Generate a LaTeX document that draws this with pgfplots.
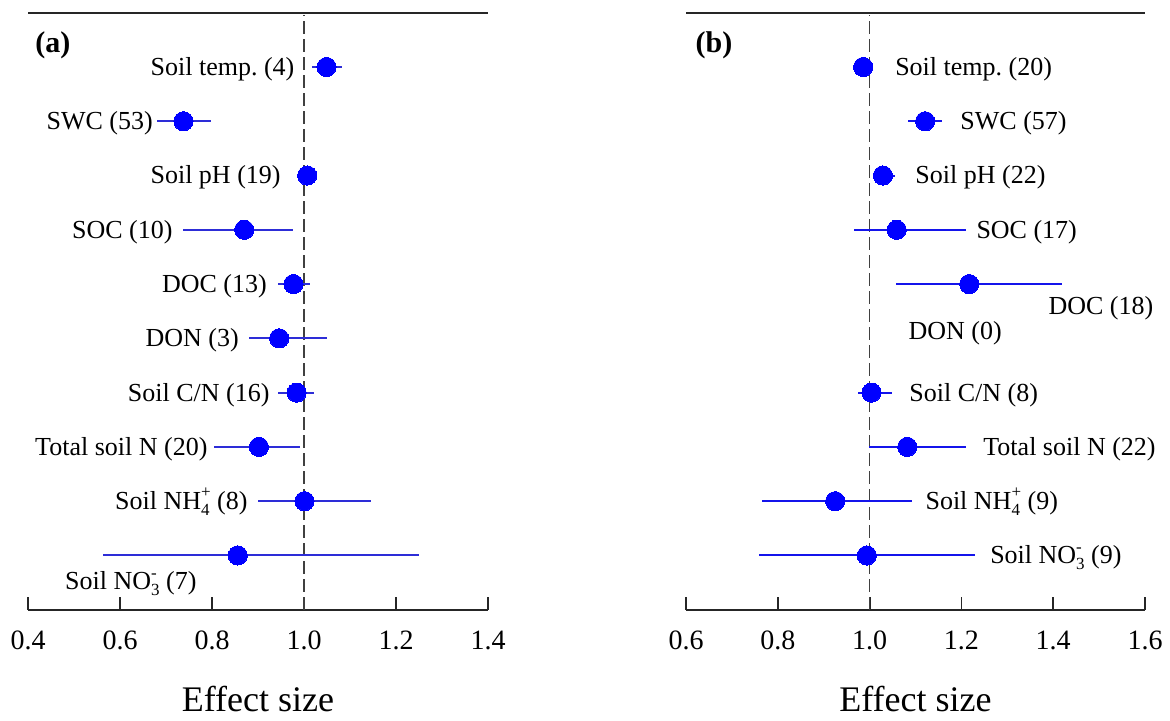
\documentclass[border=0pt]{standalone}
\usepackage{pgfplots}
\pgfplotsset{compat=1.18}
\usepackage{pgfplotstable}
\usepackage{fontspec}
\setmainfont{Liberation Serif}
\frenchspacing
\definecolor{dotblue}{RGB}{0,0,255}
\definecolor{barblueA}{RGB}{45,45,215}
\definecolor{barblueB}{RGB}{20,20,235}

\newcommand{\ion}[2]{\rlap{\raisebox{-2.8pt}{\fontsize{8.5}{9}\selectfont #1}}\raisebox{5.8pt}{\fontsize{8.5}{9}\selectfont #2}}
\newcommand{\ionm}[2]{\rlap{\raisebox{5.6pt}{\fontsize{8.5}{9}\selectfont #2}}\raisebox{-3pt}{\fontsize{8.5}{9}\selectfont #1}}

\pgfplotstableread{
r m lo hi
10 1.049 1.017 1.082
9 0.738 0.680 0.797
8 1.007 0.998 1.016
7 0.870 0.738 0.977
6 0.977 0.943 1.013
5 0.946 0.881 1.049
4 0.984 0.943 1.022
3 0.902 0.805 0.991
2 1.001 0.901 1.146
1 0.856 0.562 1.250
}\dataA

\pgfplotstableread{
r m lo hi
10 0.986 0.980 0.992
9 1.121 1.084 1.157
8 1.029 1.010 1.055
7 1.059 0.966 1.211
6 1.217 1.058 1.419
4 1.004 0.975 1.048
3 1.082 0.999 1.209
2 0.925 0.765 1.093
1 0.994 0.760 1.230
}\dataB

\tikzset{lab/.style={font=\fontsize{13}{15}\selectfont, inner sep=0pt}}

\pgfplotsset{forest/.style={
  scale only axis, height=298.5pt,
  ymin=0, ymax=11, ytick=\empty,
  separate axis lines,
  y axis line style={draw=none},
  x axis line style={line width=0.9pt, black!85},
  xtick pos=left, xtick align=inside, major tick length=6.5pt,
  tick style={line width=0.9pt, black!85},
  xticklabel style={font=\fontsize{14}{16}\selectfont, anchor=base,
    /pgf/number format/.cd, fixed, fixed zerofill, precision=1, assume math mode=true},
  xticklabel shift=20pt,
  xlabel={Effect size},
  xlabel style={font=\fontsize{18}{20}\selectfont, at={(axis description cs:0.5,-0.1704)}, anchor=base},
  clip=false,
  },
  errbars/.style={only marks, mark=none, draw=#1, line width=1pt,
    error bars/.cd, x dir=both, x explicit, error mark=none,
    error bar style={line width=1pt, draw=#1, solid}},
  dots/.style={only marks, mark=*, mark size=4.8pt, mark options={fill=dotblue, draw=dotblue, line width=0pt}},
  refline/.style={black!75, line width=0.8pt, dash pattern=on 6.5pt off 2.5pt},
}

\begin{document}
\begin{tikzpicture}
\useasboundingbox (0,0) rectangle (585pt,360pt);

% ---------------- panel (a)
\begin{axis}[forest, width=230pt, at={(14pt,55.15pt)}, anchor=south west,
  xmin=0.4, xmax=1.4, xtick={0.4,0.6,0.8,1.0,1.2,1.4}]
\addplot[refline] coordinates {(1,0) (1,10.95)};
\addplot[errbars=barblueA] table[x=m, y=r, x error plus expr=\thisrow{hi}-\thisrow{m}, x error minus expr=\thisrow{m}-\thisrow{lo}] {\dataA};
\addplot[dots] table[x=m, y=r] {\dataA};
\node[lab, anchor=base east, yshift=-4.2pt] at (axis cs:0.980,10) {Soil temp. (4)};
\node[lab, anchor=base east, yshift=-4.2pt] at (axis cs:0.672,9) {SWC (53)};
\node[lab, anchor=base east, yshift=-4.2pt] at (axis cs:0.950,8) {Soil pH (19)};
\node[lab, anchor=base east, yshift=-4.2pt] at (axis cs:0.715,7) {SOC (10)};
\node[lab, anchor=base east, yshift=-4.2pt] at (axis cs:0.920,6) {DOC (13)};
\node[lab, anchor=base east, yshift=-4.2pt] at (axis cs:0.859,5) {DON (3)};
\node[lab, anchor=base east, yshift=-4.2pt] at (axis cs:0.926,4) {Soil C/N (16)};
\node[lab, anchor=base east, yshift=-4.2pt] at (axis cs:0.791,3) {Total soil N (20)};
\node[lab, anchor=base east, yshift=-4.2pt] at (axis cs:0.878,2) {Soil NH\ion{4}{+} (8)};
\node[lab, anchor=base west, yshift=-17pt] at (axis cs:0.480,1) {Soil NO\ionm{3}{-} (7)};
\node[anchor=west, inner sep=0pt, font=\bfseries\fontsize{15}{17}\selectfont] at (axis description cs:0.015,0.946) {(a)};
\end{axis}

% ---------------- panel (b)
\begin{axis}[forest, width=229.5pt, at={(343pt,55.15pt)}, anchor=south west,
  xmin=0.6, xmax=1.6, xtick={0.6,0.8,1.0,1.2,1.4,1.6}]
\addplot[refline] coordinates {(1,0) (1,10.95)};
\addplot[errbars=barblueB] table[x=m, y=r, x error plus expr=\thisrow{hi}-\thisrow{m}, x error minus expr=\thisrow{m}-\thisrow{lo}] {\dataB};
\addplot[dots] table[x=m, y=r] {\dataB};
\node[lab, anchor=base west, yshift=-4.2pt] at (axis cs:1.055,10) {Soil temp. (20)};
\node[lab, anchor=base west, yshift=-4.2pt] at (axis cs:1.197,9) {SWC (57)};
\node[lab, anchor=base west, yshift=-4.2pt] at (axis cs:1.099,8) {Soil pH (22)};
\node[lab, anchor=base west, yshift=-4.2pt] at (axis cs:1.232,7) {SOC (17)};
\node[lab, anchor=base west, yshift=-15pt] at (axis cs:1.389,6) {DOC (18)};
\node[lab, anchor=base west, yshift=-0.5pt] at (axis cs:1.084,5) {DON (0)};
\node[lab, anchor=base west, yshift=-4.2pt] at (axis cs:1.086,4) {Soil C/N (8)};
\node[lab, anchor=base west, yshift=-4.2pt] at (axis cs:1.247,3) {Total soil N (22)};
\node[lab, anchor=base west, yshift=-4.2pt] at (axis cs:1.121,2) {Soil NH\ion{4}{+} (9)};
\node[lab, anchor=base west, yshift=-4.2pt] at (axis cs:1.262,1) {Soil NO\ionm{3}{-} (9)};
\node[anchor=west, inner sep=0pt, font=\bfseries\fontsize{15}{17}\selectfont] at (axis description cs:0.02,0.946) {(b)};
\end{axis}
\end{tikzpicture}
\end{document}
